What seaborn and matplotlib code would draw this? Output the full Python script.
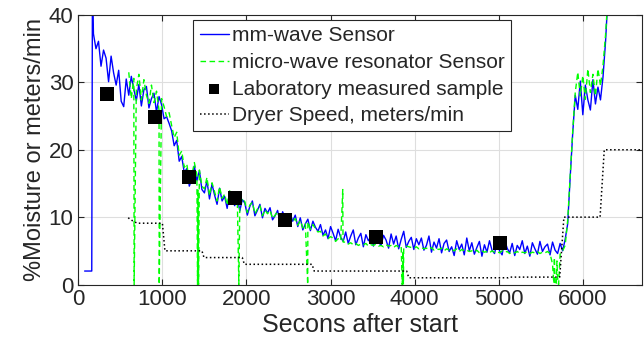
import numpy as np
import pandas as pd
import matplotlib
matplotlib.use("Agg")
import matplotlib.pyplot as plt
import seaborn as sns

# mm-wave sensor: start-up segment, then one reading every 30 s from t = 180 s
mm_lead_t = [75, 160, 168]
mm_lead_v = [2.0, 2.0, 45.0]
mm_start, mm_step = 180, 30
mm_v = [
    37.2, 35.0, 36.1, 32.4, 34.8, 33.6, 30.1, 33.9, 31.4, 29.6,
    31.8, 27.2, 26.4, 30.5, 28.1, 30.9, 29.0, 27.3, 29.7, 26.5,
    28.9, 29.4, 26.2, 27.6, 28.4, 25.6, 27.9, 26.7, 24.6, 24.9,
    23.9, 22.8, 20.6, 21.4, 18.3, 19.0, 16.6, 17.2, 14.6, 15.6,
    17.6, 15.4, 16.9, 14.1, 13.6, 15.4, 12.7, 14.9, 13.3, 11.9,
    14.3, 12.4, 13.1, 11.3, 13.8, 12.6, 11.7, 13.2, 10.9, 12.6,
    12.1, 10.3, 11.6, 12.4, 10.2, 11.0, 11.9, 9.9, 11.3, 10.6,
    11.4, 9.6, 10.2, 11.0, 9.3, 10.8, 9.9, 9.1, 10.5, 9.4,
    10.3, 8.6, 9.9, 8.1, 9.0, 9.7, 8.0, 9.4, 8.5, 7.9,
    8.9, 7.3, 8.1, 6.8, 8.6, 7.6, 6.5, 8.2, 7.0, 6.4,
    7.8, 6.1, 7.2, 8.1, 5.9, 6.9, 7.6, 5.6, 7.4, 6.5,
    7.1, 5.7, 7.9, 6.3, 5.8, 7.3, 6.6, 5.4, 7.5, 6.0,
    7.2, 5.3, 6.7, 7.9, 5.5, 6.4, 7.0, 5.2, 6.8, 5.9,
    6.9, 5.1, 5.8, 7.2, 4.8, 6.3, 5.4, 6.8, 4.7, 6.1,
    6.6, 4.9, 5.6, 4.3, 6.5, 5.2, 6.0, 4.4, 6.9, 5.0,
    6.2, 4.5, 5.5, 6.4, 4.2, 5.9, 4.8, 6.5, 5.1, 4.6,
    6.3, 5.0, 4.4, 6.6, 5.4, 4.7, 6.1, 4.3, 5.8, 5.2,
    6.5, 4.6, 5.7, 4.2, 6.2, 5.3, 4.5, 6.4, 4.9, 5.6,
    6.0, 4.4, 6.3, 5.1, 4.6, 6.1, 5.0, 6.7, 9.0, 16.0,
    22.5, 28.1, 26.0, 30.2, 25.2, 29.6, 27.4, 25.9, 30.4, 26.8,
    29.3, 27.4, 30.8, 36.0, 43.0,
]

# micro-wave resonator sensor: one reading every 30 s from t = 600 s
mw_start, mw_step = 600, 30
mw_v = [
    31.5, 27.6, 30.6, 28.9, 31.2, 27.4,
    30.4, 28.1, 26.9, 29.6, 27.0, 28.7, 25.9, 27.6, 26.4, 24.9,
    25.5, 23.6, 21.8, 22.6, 19.2, 19.8, 17.4, 17.9, 15.3, 16.2,
    18.1, 16.3, 17.0, 14.6, 14.2, 15.9, 13.2, 15.1, 13.8, 12.4,
    14.5, 12.8, 13.4, 11.8, 13.9, 12.9, 12.0, 13.4, 11.4, 12.8,
    12.3, 10.7, 11.8, 12.2, 10.5, 11.2, 11.7, 10.2, 11.1, 10.5,
    11.0, 9.8, 10.3, 10.8, 9.5, 10.4, 9.8, 9.3, 10.1, 9.3,
    9.8, 8.8, 9.5, 8.4, 9.0, 9.3, 8.2, 8.9, 8.3, 7.8,
    7.9, 7.2, 7.5, 6.8, 7.1, 6.9, 6.4, 6.8, 6.5, 6.3,
    6.3, 6.0, 6.2, 5.9, 6.1, 5.8, 6.0, 5.9, 6.1, 5.7,
    5.9, 5.8, 6.0, 5.7, 5.8, 5.6, 5.9, 5.7, 5.8, 5.5,
    5.8, 5.6, 5.7, 5.5, 5.7, 5.6, 5.5, 5.4, 5.6, 5.3,
    5.5, 5.3, 5.4, 5.2, 5.5, 5.1, 5.3, 5.2, 5.4, 5.0,
    5.3, 5.1, 5.2, 5.0, 5.3, 4.9, 5.2, 5.0, 5.1, 4.9,
    5.0, 4.8, 5.1, 4.7, 5.0, 4.8, 4.9, 4.7, 5.0, 4.8,
    4.9, 4.7, 5.0, 4.8, 4.9, 4.6, 4.8, 4.7, 4.9, 4.6,
    4.8, 4.7, 4.9, 4.6, 4.8, 4.7, 4.9, 4.6, 4.8, 4.7,
    4.9, 4.6, 3.0, 0.0, 1.0, 4.5, 5.0, 5.8, 9.5, 16.2,
    22.8, 28.5, 31.5, 28.0, 31.0, 27.5, 32.0, 28.5, 31.2, 28.0,
    32.0, 29.5, 32.5, 37.0, 43.0,
]
# readings logged between the regular samples (signal drop-outs and a spike)
mw_event_t = [664, 962, 1418, 1424, 1430, 1909, 2728, 3145, 3148,
              3852, 3860, 3866, 5655, 5662, 5685, 5692, 5712]
mw_event_v = [0.0, 0.0, 0.0, 14.0, 0.0, 0.0, 0.0, 14.1, 6.4,
              0.0, 5.0, 0.0, 0.2, 4.0, 0.0, 3.5, 0.0]

# laboratory moisture samples
lab_t = [346, 907, 1313, 1862, 2458, 3544, 5012]
lab_v = [28.3, 24.8, 15.9, 12.9, 9.6, 7.0, 6.2]

# dryer line speed
dryer_t = [593, 640, 700, 1000, 1030, 1470, 1495, 1950, 1975, 2780, 2805,
           3905, 3930, 5110, 5130, 5725, 5775, 6205, 6255, 6700]
dryer_v = [9.9, 9.5, 9.1, 9.1, 5.0, 5.0, 4.0, 4.0, 3.0, 3.0, 2.0,
           2.0, 1.0, 1.0, 1.1, 1.1, 10.0, 10.0, 20.0, 20.0]

mm = pd.DataFrame({
    "t": np.concatenate([mm_lead_t, mm_start + mm_step * np.arange(len(mm_v))]),
    "v": np.concatenate([mm_lead_v, mm_v]),
})
mw = pd.DataFrame({
    "t": np.concatenate([mw_start + mw_step * np.arange(len(mw_v)), mw_event_t]),
    "v": np.concatenate([mw_v, mw_event_v]),
}).sort_values("t")
lab = pd.DataFrame({"t": lab_t, "v": lab_v})
dryer = pd.DataFrame({"t": dryer_t, "v": dryer_v})

sns.set_style("ticks")
plt.rcParams["font.family"] = ["Liberation Sans", "DejaVu Sans"]
dark = (0.15, 0.15, 0.15)

fig = plt.figure(figsize=(6.44, 3.5), dpi=100)
ax = fig.add_axes([0.1216, 0.1871, 0.8748, 0.77])

sns.lineplot(data=mm, x="t", y="v", ax=ax, color=(0, 0, 1), lw=1.0,
             estimator=None, sort=False, label="mm-wave Sensor")
sns.lineplot(data=mw, x="t", y="v", ax=ax, color=(0, 1, 0), lw=1.0,
             estimator=None, sort=False, linestyle="--",
             label="micro-wave resonator Sensor")
ax.lines[-1].set_dashes((4, 2.5))
sns.scatterplot(data=lab, x="t", y="v", ax=ax, marker="s", s=115,
                color="black", edgecolor="black", linewidth=0, zorder=5,
                label="Laboratory measured sample")
sns.lineplot(data=dryer, x="t", y="v", ax=ax, color="black", lw=1.1,
             estimator=None, sort=False, linestyle=":",
             label="Dryer Speed, meters/min")

ax.set_xlim(0, 6700)
ax.set_ylim(0, 40)
ax.set_xticks(range(0, 7000, 1000))
ax.set_yticks(range(0, 41, 10))
ax.grid(True, color=(0.87, 0.87, 0.87), lw=0.8)
ax.set_axisbelow(True)
ax.tick_params(direction="in", top=True, right=True, length=4, width=0.8,
               colors=dark, labelsize=16, labelcolor=dark)
for s in ax.spines.values():
    s.set_color(dark)
    s.set_linewidth(0.8)
ax.set_xlabel("Secons after start", fontsize=18, color=dark, labelpad=2)
ax.set_ylabel("%Moisture or meters/min", fontsize=17, color=dark, labelpad=2)

leg = ax.legend(loc="upper right", bbox_to_anchor=(0.768, 0.982),
                frameon=True, fancybox=False, framealpha=1, edgecolor=dark,
                fontsize=15, handlelength=1.4, handletextpad=0.15,
                labelspacing=0.37, borderpad=0.3, markerscale=0.7,
                borderaxespad=0)
leg.get_frame().set_linewidth(0.8)

fig.savefig("out.png", dpi=100)
